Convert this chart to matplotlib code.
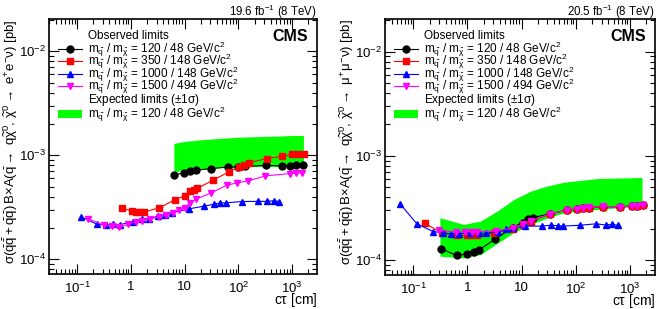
import matplotlib
matplotlib.use("Agg")
import matplotlib.pyplot as plt
from matplotlib.lines import Line2D
from matplotlib.patches import Rectangle
from matplotlib.ticker import LogLocator, FixedLocator, NullFormatter

plt.rcParams['font.family'] = ['Liberation Sans', 'DejaVu Sans']
plt.rcParams['mathtext.fontset'] = 'custom'
plt.rcParams['mathtext.rm'] = 'Liberation Sans'
plt.rcParams['mathtext.it'] = 'Liberation Sans'
plt.rcParams['mathtext.bf'] = 'Liberation Sans:bold'

# ---------------- data: left panel (electron channel) ----------------
L_black_x = [6.3, 9.7, 12.7, 16.4, 31, 63, 100, 130, 320, 660, 920, 1200, 1560]
L_black_y = [6.43e-4, 6.82e-4, 7.07e-4, 7.18e-4, 7.45e-4, 7.7e-4, 7.75e-4, 7.8e-4,
             8.0e-4, 7.9e-4, 7.95e-4, 8.0e-4, 8.0e-4]
L_red_x = [0.69, 1.03, 1.27, 1.45, 1.75, 3.35, 6.7, 10, 12.7, 15, 17.2, 33.5, 66,
           101, 129, 159, 334, 661, 1014, 1300, 1660]
L_red_y = [3.11e-4, 2.9e-4, 2.85e-4, 2.85e-4, 2.85e-4, 3.11e-4, 3.75e-4, 4.06e-4,
           4.5e-4, 4.65e-4, 4.8e-4, 5.75e-4, 6.9e-4, 7.72e-4, 8.14e-4, 8.5e-4,
           9.3e-4, 9.8e-4, 1.02e-3, 1.02e-3, 1.02e-3]
L_blue_x = [0.12, 0.23, 0.35, 0.47, 0.63, 1.1, 1.6, 2.2, 3.2, 4.3, 5.7, 12, 23, 35,
            46, 58, 115, 234, 347, 464, 575]
L_blue_y = [2.55e-4, 2.18e-4, 2.12e-4, 2.17e-4, 2.15e-4, 2.29e-4, 2.41e-4, 2.46e-4,
            2.59e-4, 2.69e-4, 2.79e-4, 3.05e-4, 3.24e-4, 3.38e-4, 3.48e-4, 3.48e-4,
            3.59e-4, 3.6e-4, 3.6e-4, 3.66e-4, 3.59e-4]
L_mag_x = [0.16, 0.31, 0.45, 0.61, 0.89, 1.24, 1.6, 2.3, 3.3, 4.5, 6, 8, 10, 12.4,
           16.4, 31, 61, 93, 153, 316, 920, 1170, 1510]
L_mag_y = [2.46e-4, 2.12e-4, 2.08e-4, 2.02e-4, 2.16e-4, 2.29e-4, 2.34e-4, 2.45e-4,
           2.55e-4, 2.65e-4, 2.78e-4, 2.95e-4, 3.1e-4, 3.48e-4, 3.78e-4, 4.35e-4,
           5.15e-4, 5.42e-4, 5.67e-4, 6.33e-4, 6.67e-4, 6.76e-4, 6.8e-4]
L_band_x = [6.3, 10, 20, 50, 100, 200, 500, 1000, 1620]
L_band_lo = [6.9e-4, 7.2e-4, 7.4e-4, 7.6e-4, 7.7e-4, 7.8e-4, 7.8e-4, 7.8e-4, 7.8e-4]
L_band_hi = [1.30e-3, 1.36e-3, 1.41e-3, 1.46e-3, 1.49e-3, 1.51e-3, 1.53e-3, 1.55e-3, 1.55e-3]

# ---------------- data: right panel (muon channel) ----------------
R_black_x = [0.32, 0.63, 0.96, 1.31, 1.62, 3.18, 6.8, 10.4, 12.9, 16, 33, 69, 106,
             137, 175, 322, 650, 1070, 1350, 1710]
R_black_y = [1.29e-4, 1.11e-4, 1.15e-4, 1.19e-4, 1.25e-4, 1.58e-4, 2.05e-4, 2.29e-4,
             2.46e-4, 2.55e-4, 2.78e-4, 3.02e-4, 3.1e-4, 3.15e-4, 3.18e-4, 3.26e-4,
             3.24e-4, 3.3e-4, 3.33e-4, 3.35e-4]
R_red_x = [0.165, 0.34, 0.64, 1.0, 1.2, 1.5, 3.1, 6.8, 10.4, 14.9, 32.7, 69, 106,
           137, 175, 322, 650, 1070, 1350, 1710]
R_red_y = [2.25e-4, 1.81e-4, 1.73e-4, 1.73e-4, 1.73e-4, 1.73e-4, 1.81e-4, 2.0e-4,
           2.17e-4, 2.34e-4, 2.75e-4, 3.0e-4, 3.08e-4, 3.14e-4, 3.18e-4, 3.26e-4,
           3.23e-4, 3.3e-4, 3.32e-4, 3.35e-4]
R_blue_x = [0.057, 0.115, 0.23, 0.35, 0.5, 0.71, 1.1, 1.6, 2.2, 3.7, 5.1, 6.8, 11.5,
            23.5, 35, 46, 58, 118, 239, 355, 470, 590]
R_blue_y = [3.47e-4, 2.24e-4, 1.88e-4, 1.83e-4, 1.79e-4, 1.79e-4, 1.83e-4, 1.82e-4,
            1.81e-4, 1.87e-4, 1.97e-4, 2.04e-4, 2.12e-4, 2.12e-4, 2.16e-4, 2.14e-4,
            2.12e-4, 2.16e-4, 2.23e-4, 2.17e-4, 2.2e-4, 2.16e-4]
R_mag_x = [0.3, 0.62, 0.9, 1.2, 1.49, 3.3, 7.0, 10.4, 15, 33, 69, 106, 137, 175,
           322, 650, 1070, 1350, 1710]
R_mag_y = [1.93e-4, 1.85e-4, 1.87e-4, 1.87e-4, 1.87e-4, 1.9e-4, 2.03e-4, 2.2e-4,
           2.37e-4, 2.78e-4, 3.02e-4, 3.1e-4, 3.15e-4, 3.2e-4, 3.27e-4, 3.25e-4,
           3.31e-4, 3.33e-4, 3.36e-4]
R_band_x = [0.31, 0.85, 1.74, 3.57, 7.3, 14.9, 30.5, 62, 260, 1670]
R_band_lo = [1.09e-4, 1.05e-4, 1.13e-4, 1.45e-4, 1.85e-4, 2.2e-4, 2.55e-4, 2.85e-4,
             3.07e-4, 3.3e-4]
R_band_hi = [2.55e-4, 2.2e-4, 2.37e-4, 2.96e-4, 3.83e-4, 4.6e-4, 5.15e-4, 5.6e-4,
             6.06e-4, 6.2e-4]

legend_labels = [
    r'm$_{\widetilde{q}}$ / m$_{\widetilde{\chi}}$ = 120 / 48 GeV/c$^{2}$',
    r'm$_{\widetilde{q}}$ / m$_{\widetilde{\chi}}$ = 350 / 148 GeV/c$^{2}$',
    r'm$_{\widetilde{q}}$ / m$_{\widetilde{\chi}}$ = 1000 / 148 GeV/c$^{2}$',
    r'm$_{\widetilde{q}}$ / m$_{\widetilde{\chi}}$ = 1500 / 494 GeV/c$^{2}$',
]
band_label = r'm$_{\widetilde{q}}$ / m$_{\widetilde{\chi}}$ = 120 / 48 GeV/c$^{2}$'
obs_header = 'Observed limits'
exp_header = r'Expected limits ($\pm$1$\sigma$)'
xticks = [0.1, 1, 10, 100, 1000]
xticklabels = [r'10$^{-1}$', '1', '10', r'10$^{2}$', r'10$^{3}$']
yticks = [1e-4, 1e-3, 1e-2]
yticklabels = [r'10$^{-4}$', r'10$^{-3}$', r'10$^{-2}$']

GREEN = '#00ff00'
styles = [('black', 'o', 5.0), ('#ff0000', 's', 4.6), ('#0000ff', '^', 5.0), ('#ff00ff', 'v', 5.0)]
LEGFS = 8.5

W, H = 663.0, 309.0
fig = plt.figure(figsize=(6.63, 3.09), dpi=100)
ax1 = fig.add_axes([49 / W, 1 - 274 / H, 268 / W, 255 / H])
ax2 = fig.add_axes([385 / W, 1 - 275 / H, 270 / W, 256 / H])


def panel(ax, series, band, lumi, ylab, x0px, wpx, hl0, hl1, tx):
    bx, blo, bhi = band
    ax.fill_between(bx, blo, bhi, color=GREEN, linewidth=0, zorder=1)
    for (x, y), (c, m, ms) in zip(series, styles):
        ax.plot(x, y, color=c, marker=m, markersize=ms, linewidth=0.8, zorder=3)
    ax.set_xscale('log')
    ax.set_yscale('log')
    ax.set_xlim(0.03, 2900)
    ax.set_ylim(7.2e-5, 2.05e-2)
    ax.xaxis.set_major_locator(FixedLocator(xticks))
    ax.set_xticklabels(xticklabels)
    ax.yaxis.set_major_locator(FixedLocator(yticks))
    ax.set_yticklabels(yticklabels)
    ax.xaxis.set_minor_locator(LogLocator(base=10, subs=range(2, 10), numticks=20))
    ax.yaxis.set_minor_locator(LogLocator(base=10, subs=range(2, 10), numticks=20))
    ax.xaxis.set_minor_formatter(NullFormatter())
    ax.yaxis.set_minor_formatter(NullFormatter())
    ax.tick_params(which='both', direction='in', top=True, right=True, labelsize=9.5)
    ax.tick_params(which='major', length=7, width=0.8)
    ax.tick_params(which='minor', length=3.5, width=0.8)
    ax.tick_params(axis='x', pad=5)
    ax.tick_params(axis='y', pad=2)
    for s in ax.spines.values():
        s.set_linewidth(1.2)
    ax.set_xlabel(r'c$\tau$ [cm]', fontsize=10, loc='right', labelpad=-3.5)
    ax.set_ylabel(ylab, fontsize=9.5, loc='top', labelpad=-1)
    ax.text(1.0, 1.0 + 3 / 255.0, lumi, transform=ax.transAxes, ha='right',
            va='baseline', fontsize=8.3)
    ax.text(0.965, 0.93, 'CMS', transform=ax.transAxes, ha='right', va='center',
            fontsize=11.5, fontweight='bold')

    # manual legend (pixel positions converted to axes fractions)
    def fx(px):
        return (px - x0px) / wpx

    def fy(py):
        return 1 - (py - 19) / 255.0

    rows = [36, 49, 61, 74, 86, 100, 114]
    ax.text(fx(tx), fy(rows[0]), obs_header, transform=ax.transAxes, ha='left',
            va='center', fontsize=LEGFS)
    for r, lab, (c, m, ms) in zip(rows[1:5], legend_labels, styles):
        ax.add_line(Line2D([fx(hl0), fx(hl1)], [fy(r), fy(r)], transform=ax.transAxes,
                           color=c, linewidth=0.8, zorder=5))
        ax.add_line(Line2D([(fx(hl0) + fx(hl1)) / 2], [fy(r)], transform=ax.transAxes,
                           color=c, marker=m, markersize=ms, linestyle='none', zorder=5))
        ax.text(fx(tx), fy(r), lab, transform=ax.transAxes, ha='left', va='center',
                fontsize=LEGFS)
    ax.text(fx(tx), fy(rows[5]), exp_header, transform=ax.transAxes, ha='left',
            va='center', fontsize=LEGFS)
    ax.add_patch(Rectangle((fx(hl0), fy(rows[6]) - 4 / 255.0), fx(hl1) - fx(hl0), 8 / 255.0,
                           transform=ax.transAxes, facecolor=GREEN, edgecolor='none', zorder=5))
    ax.text(fx(tx), fy(rows[6]), band_label, transform=ax.transAxes, ha='left', va='center',
            fontsize=LEGFS)


ylab_e = (r'$\sigma(\widetilde{q}\widetilde{\bar{q}}+\widetilde{q}\widetilde{q})\,$B$\times$A'
          r'$(\widetilde{q}\rightarrow$ q$\widetilde{\chi}^{0}$, $\widetilde{\chi}^{0}\rightarrow$ e$^{+}$e$^{-}\nu$) [pb]')
ylab_m = (r'$\sigma(\widetilde{q}\widetilde{\bar{q}}+\widetilde{q}\widetilde{q})\,$B$\times$A'
          r'$(\widetilde{q}\rightarrow$ q$\widetilde{\chi}^{0}$, $\widetilde{\chi}^{0}\rightarrow$ $\mu^{+}\mu^{-}\nu$) [pb]')

panel(ax1, [(L_black_x, L_black_y), (L_red_x, L_red_y), (L_blue_x, L_blue_y), (L_mag_x, L_mag_y)],
      (L_band_x, L_band_lo, L_band_hi), r'19.6 fb$^{-1}$ (8 TeV)', ylab_e,
      49, 268, 58, 82, 88)
panel(ax2, [(R_black_x, R_black_y), (R_red_x, R_red_y), (R_blue_x, R_blue_y), (R_mag_x, R_mag_y)],
      (R_band_x, R_band_lo, R_band_hi), r'20.5 fb$^{-1}$ (8 TeV)', ylab_m,
      385, 270, 394, 418, 424)

fig.savefig('out.png', dpi=100)
